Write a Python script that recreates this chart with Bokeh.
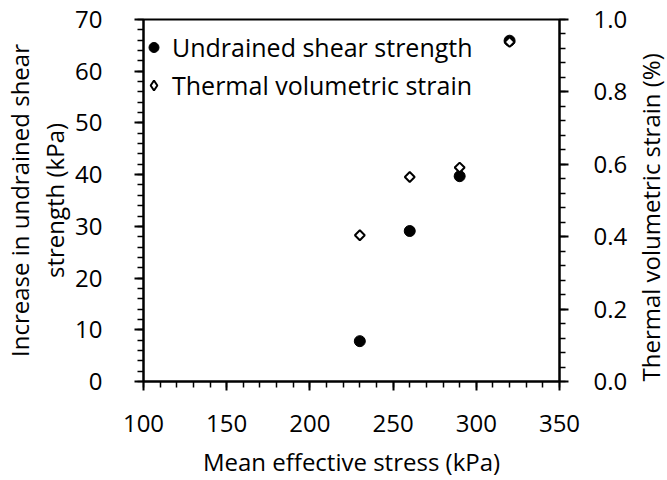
import math
from bokeh.plotting import figure
from bokeh.models import (Range1d, LinearAxis, SingleIntervalTicker,
                          PrintfTickFormatter, Legend, LegendItem)
from bokeh.embed import file_html
from bokeh.resources import INLINE

# ---- data ----
stress = [230, 260, 290, 320]                 # Mean effective stress (kPa)
shear_strength = [7.8, 29.1, 39.7, 65.9]      # Increase in undrained shear strength (kPa)
vol_strain = [0.404, 0.565, 0.591, 0.938]     # Thermal volumetric strain (%)

FONT = "Open Sans"
FS = "24px"

p = figure(width=667, height=480, output_backend="svg", toolbar_location=None,
           x_range=Range1d(100, 350), y_range=Range1d(0, 70),
           min_border_left=143, min_border_right=108,
           min_border_top=19, min_border_bottom=97)
p.background_fill_color = "white"
p.border_fill_color = "white"
p.grid.visible = False
p.outline_line_color = "black"
p.outline_line_width = 2
p.outline_line_alpha = 1

p.extra_y_ranges = {"strain": Range1d(0, 1.0)}
rax = LinearAxis(y_range_name="strain")
p.add_layout(rax, "right")

xax = p.xaxis[0]
lax = p.yaxis[0]

xax.ticker = SingleIntervalTicker(interval=50, num_minor_ticks=5)
lax.ticker = SingleIntervalTicker(interval=10, num_minor_ticks=5)
rax.ticker = SingleIntervalTicker(interval=0.2, num_minor_ticks=5)
rax.formatter = PrintfTickFormatter(format="%.1f")

xax.axis_label = "Mean effective stress (kPa)"
lax.axis_label = "Increase in undrained shear\nstrength (kPa)"
rax.axis_label = "Thermal volumetric strain (%)\n"
rax.axis_label_orientation = math.pi / 2
rax.axis_label_align = "start"

for ax in (xax, lax, rax):
    ax.axis_line_color = "black"
    ax.axis_line_width = 2
    ax.major_tick_in = 0
    ax.major_tick_out = 9
    ax.minor_tick_in = 0
    ax.minor_tick_out = 6
    ax.major_tick_line_color = "black"
    ax.minor_tick_line_color = "black"
    ax.major_tick_line_width = 2
    ax.minor_tick_line_width = 1.5
    ax.major_label_text_font = FONT
    ax.major_label_text_font_size = FS
    ax.major_label_text_color = "black"
    ax.axis_label_text_font = FONT
    ax.axis_label_text_font_size = FS
    ax.axis_label_text_font_style = "normal"
    ax.axis_label_text_color = "black"

lax.axis_label_text_line_height = 1.05
rax.axis_label_text_line_height = -1.0

xax.major_label_standoff = 24
xax.axis_label_standoff = 10
lax.major_label_standoff = 32
lax.axis_label_standoff = 1
rax.major_label_standoff = 25
rax.axis_label_standoff = 4

r1 = p.scatter(stress, shear_strength, marker="circle", size=11,
               fill_color="black", line_color="black", line_width=1)
r2 = p.scatter(stress, vol_strain, y_range_name="strain", marker="square",
               angle=math.pi / 4, size=7, fill_color="white",
               line_color="black", line_width=2)
# legend swatch for the diamond series (draws nothing in the plot area)
r2_key = p.scatter(x=[float("nan")], y=[float("nan")], marker="diamond",
                   fill_color="white", line_color="black", line_width=2)

legend = Legend(items=[LegendItem(label="Undrained shear strength", renderers=[r1]),
                       LegendItem(label="Thermal volumetric strain", renderers=[r2_key])],
                location=(-2, 279), orientation="vertical",
                border_line_color=None, background_fill_alpha=0,
                label_text_font=FONT, label_text_font_size="25px",
                label_text_color="black",
                glyph_width=25, glyph_height=30, label_height=30,
                spacing=4, padding=2, label_standoff=6, margin=0)
p.add_layout(legend, "center")

open("out.html", "w").write(file_html(p, INLINE))
